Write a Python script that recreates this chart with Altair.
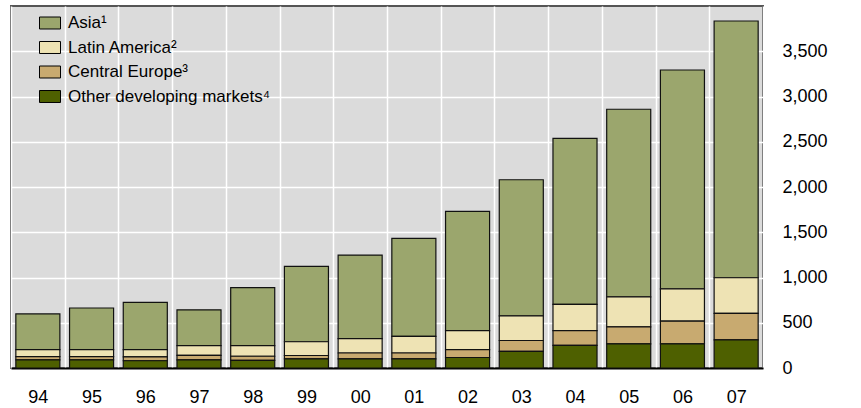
import altair as alt
import pandas as pd

years = ["94", "95", "96", "97", "98", "99", "00", "01", "02", "03", "04", "05", "06", "07"]
asia = [395, 460, 522, 395, 640, 832, 924, 1083, 1316, 1504, 1836, 2072, 2418, 2837]
latin = [78, 78, 82, 108, 118, 152, 158, 183, 210, 272, 288, 332, 358, 393]
central = [35, 35, 42, 50, 45, 38, 66, 66, 88, 121, 165, 188, 250, 294]
other = [90, 90, 80, 90, 85, 100, 100, 100, 116, 183, 249, 267, 267, 310]

series = ["Asia¹", "Latin America²", "Central Europe³", "Other developing markets⁴"]
colors = ["#9BA66D", "#EEE3B4", "#C8AA70", "#4E6000"]
stack_order = [3, 2, 1, 0]
y_ticks = [0, 500, 1000, 1500, 2000, 2500, 3000, 3500]

rows = []
for i, yr in enumerate(years):
    for s, vals, o in zip(series, [asia, latin, central, other], stack_order):
        rows.append({"year": yr, "series": s, "value": vals[i], "ord": o})
df = pd.DataFrame(rows)

FONT = "Liberation Sans"

chart = (
    alt.Chart(df)
    .mark_bar(width=alt.RelativeBandSize(0.82), stroke="#111111", strokeWidth=1.2)
    .encode(
        x=alt.X(
            "year:N",
            sort=years,
            scale=alt.Scale(paddingInner=0, paddingOuter=0),
            axis=alt.Axis(
                title=None, labelAngle=0, tickBand="extent", grid=True,
                gridColor="white", gridWidth=1.5, ticks=False,
                domainColor="#000000", domainWidth=2,
                labelFontSize=18, labelPadding=20, labelFont=FONT,
                labelColor="black",
            ),
        ),
        y=alt.Y(
            "value:Q",
            stack="zero",
            scale=alt.Scale(domain=[0, 4000], nice=False),
            axis=alt.Axis(
                orient="right", title=None, values=y_ticks, format=",.0f",
                grid=True, gridColor="white", gridWidth=1.5, ticks=False,
                domain=False, labelAlign="left", labelPadding=19,
                labelFontSize=18, labelFont=FONT, labelColor="black",
            ),
        ),
        color=alt.Color(
            "series:N",
            scale=alt.Scale(domain=series, range=colors),
            legend=alt.Legend(
                title=None, orient="none", legendX=28, legendY=6,
                symbolType="M-1,-0.57H1V0.57H-1Z", symbolSize=441,
                symbolStrokeColor="black", symbolStrokeWidth=1,
                labelFontSize=17, labelFont=FONT, labelColor="black",
                labelOffset=7, rowPadding=5.5, labelLimit=0,
            ),
        ),
        order=alt.Order("ord:Q"),
    )
    .properties(
        width=752, height=362,
        padding={"left": 11, "top": 6, "right": 0, "bottom": 0},
    )
    .configure_view(fill="#DBDBDB", stroke="#555555", strokeWidth=2)
)

chart.save("out.html", embed_options={"renderer": "svg", "actions": False})
